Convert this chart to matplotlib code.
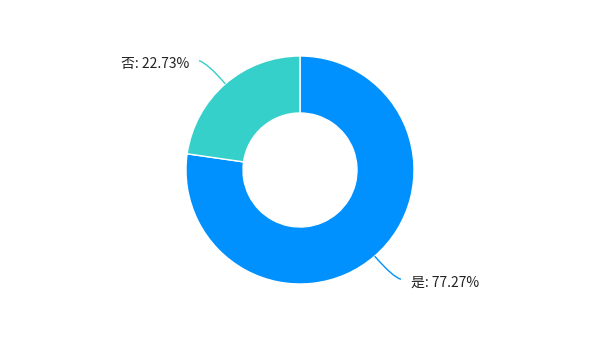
import numpy as np
import matplotlib.pyplot as plt
from matplotlib.path import Path
from matplotlib.patches import PathPatch

plt.rcParams['font.family'] = ['Noto Sans CJK SC', 'DejaVu Sans']

labels = ['是', '否']
values = [77.27, 22.73]
colors = ['#0091FF', '#36D0CA']

fig = plt.figure(figsize=(6, 3.4), dpi=100)
ax = fig.add_axes([0, 0, 1, 1])

cx, cy, r = 300, 170, 114
wedges, _ = ax.pie(values, colors=colors, startangle=90, counterclock=False,
                   radius=r, center=(cx, cy), frame=True,
                   wedgeprops=dict(width=57, edgecolor='white', linewidth=1))
ax.set_xlim(0, 600)
ax.set_ylim(0, 340)
ax.set_aspect('equal')
ax.axis('off')

# 引导线 + 标签
for w, lab, val, col in zip(wedges, labels, values, colors):
    ang = np.deg2rad((w.theta1 + w.theta2) / 2)
    dx, dy = np.cos(ang), np.sin(ang)
    p0 = (cx + r * dx, cy + r * dy)
    p1 = (cx + (r + 28) * dx, cy + (r + 28) * dy)
    side = 1 if dx > 0 else -1
    p2 = (p1[0] + side * 8, p1[1] + 2 * np.sign(dy))
    path = Path([p0, p1, p2], [Path.MOVETO, Path.CURVE3, Path.CURVE3])
    ax.add_patch(PathPatch(path, fill=False, edgecolor=col, linewidth=1))
    ax.text(p2[0] + side * 10, p2[1] - 3, f'{lab}: {val:.2f}%', fontsize=10, color='#222222',
            ha='left' if side > 0 else 'right', va='center')

fig.savefig('out.png', dpi=100)
